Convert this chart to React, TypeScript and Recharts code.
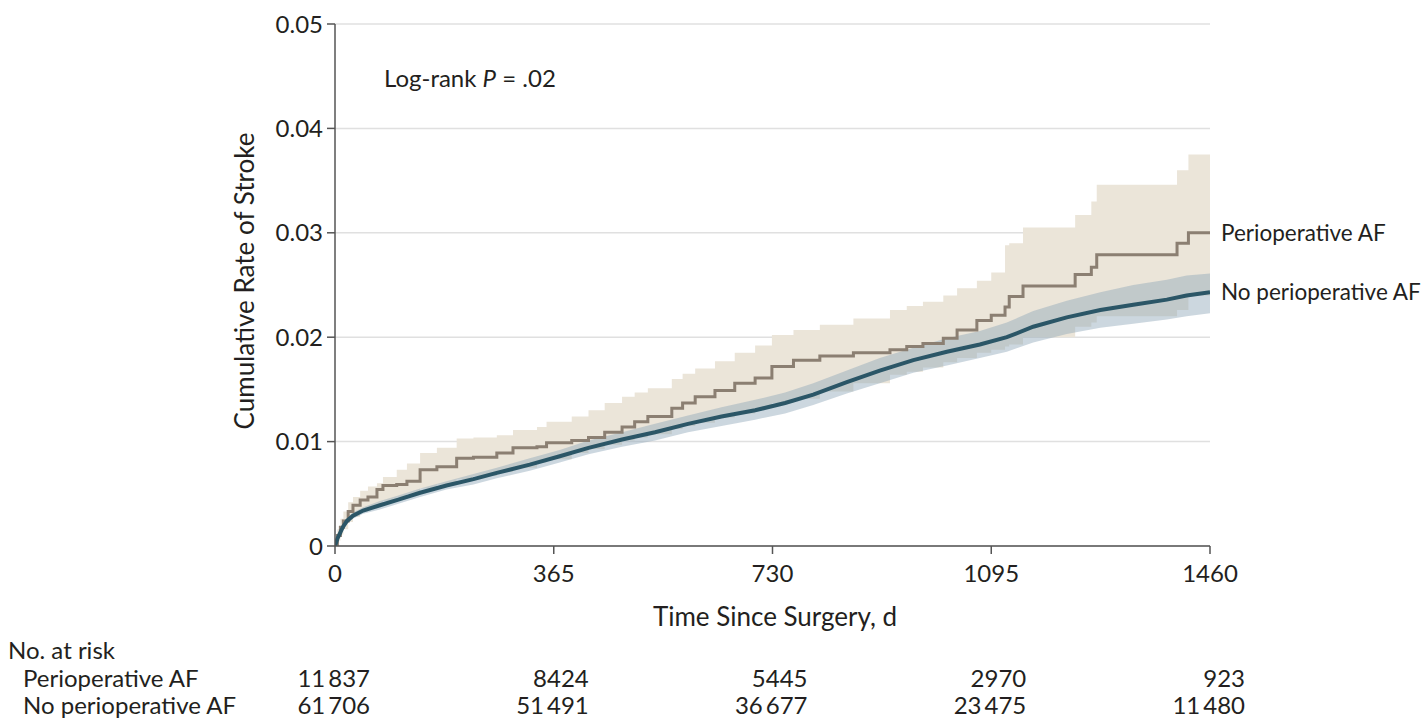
import React from 'react';
import { ComposedChart, Area, Line, XAxis, YAxis, CartesianGrid, ReferenceDot } from 'recharts';

// ---- Data ----
const periDays = [0, 4, 9, 14, 22, 30, 42, 55, 70, 80, 103, 120, 142, 170, 203, 231, 270, 297, 337, 353, 395, 423, 450, 479, 500, 522, 562, 580, 601, 634, 667, 701, 729, 765, 809, 865, 926, 954, 981, 1015, 1038, 1071, 1095, 1118, 1125, 1148, 1235, 1262, 1271, 1405, 1424, 1460];
const periEst = [0, 0.0010, 0.0018, 0.0024, 0.0033, 0.0039, 0.0044, 0.0047, 0.0054, 0.0058, 0.0059, 0.0062, 0.0073, 0.0076, 0.0084, 0.0085, 0.0089, 0.0094, 0.0095, 0.0099, 0.0101, 0.0104, 0.0109, 0.0114, 0.0119, 0.0124, 0.0132, 0.0137, 0.0143, 0.0149, 0.0156, 0.0161, 0.0172, 0.0178, 0.0182, 0.0185, 0.0188, 0.0191, 0.0194, 0.0199, 0.0207, 0.0216, 0.0221, 0.0229, 0.0239, 0.0249, 0.0260, 0.0267, 0.0279, 0.0290, 0.0300, 0.0300];
const periLow = [0, 0.0005, 0.0011, 0.0016, 0.0023, 0.0028, 0.0033, 0.0036, 0.0040, 0.0043, 0.0047, 0.0050, 0.0055, 0.0059, 0.0064, 0.0067, 0.0071, 0.0075, 0.0080, 0.0083, 0.0089, 0.0093, 0.0097, 0.0101, 0.0104, 0.0107, 0.0112, 0.0115, 0.0118, 0.0123, 0.0127, 0.0132, 0.0137, 0.0141, 0.0148, 0.0156, 0.0164, 0.0167, 0.0171, 0.0176, 0.0180, 0.0185, 0.0188, 0.0191, 0.0193, 0.0200, 0.0210, 0.0214, 0.0220, 0.0226, 0.0240, 0.0240];
const periHigh = [0, 0.0016, 0.0026, 0.0033, 0.0042, 0.0047, 0.0053, 0.0057, 0.0060, 0.0066, 0.0073, 0.0079, 0.0089, 0.0094, 0.0103, 0.0104, 0.0106, 0.0111, 0.0114, 0.0119, 0.0124, 0.0130, 0.0137, 0.0143, 0.0147, 0.0151, 0.0160, 0.0165, 0.0170, 0.0177, 0.0185, 0.0192, 0.0202, 0.0207, 0.0212, 0.0218, 0.0226, 0.0230, 0.0234, 0.0240, 0.0247, 0.0254, 0.0262, 0.0288, 0.0290, 0.0305, 0.0317, 0.0330, 0.0346, 0.0360, 0.0375, 0.0375];

const noDays = [0, 4, 9, 13, 20, 30, 47, 75, 103, 142, 186, 231, 270, 325, 375, 423, 479, 534, 589, 645, 701, 751, 798, 854, 909, 965, 1021, 1076, 1121, 1165, 1221, 1277, 1332, 1388, 1421, 1460];
const noEst = [0, 0.0007, 0.0013, 0.0018, 0.0024, 0.0029, 0.0034, 0.0039, 0.0044, 0.0051, 0.0058, 0.0064, 0.0070, 0.0078, 0.0086, 0.0094, 0.0102, 0.0109, 0.0117, 0.0124, 0.0130, 0.0137, 0.0145, 0.0157, 0.0168, 0.0178, 0.0186, 0.0193, 0.0200, 0.0210, 0.0219, 0.0226, 0.0231, 0.0236, 0.0240, 0.0243];
const noLow = [0, 0.0005, 0.0010, 0.0015, 0.0021, 0.0026, 0.0031, 0.0035, 0.0040, 0.0047, 0.0054, 0.0059, 0.0065, 0.0072, 0.0080, 0.0088, 0.0095, 0.0101, 0.0109, 0.0115, 0.0121, 0.0127, 0.0135, 0.0146, 0.0156, 0.0166, 0.0173, 0.0180, 0.0186, 0.0195, 0.0203, 0.0209, 0.0213, 0.0217, 0.0220, 0.0223];
const noHigh = [0, 0.0009, 0.0016, 0.0021, 0.0027, 0.0032, 0.0037, 0.0043, 0.0048, 0.0055, 0.0062, 0.0069, 0.0075, 0.0084, 0.0092, 0.0101, 0.0109, 0.0117, 0.0125, 0.0133, 0.0140, 0.0147, 0.0156, 0.0168, 0.0180, 0.0190, 0.0199, 0.0206, 0.0214, 0.0225, 0.0235, 0.0243, 0.0250, 0.0255, 0.0259, 0.0261];

const xTicks = [0, 365, 730, 1095, 1460];
const yTicks = [0, 0.01, 0.02, 0.03, 0.04, 0.05];

const groupPeri = 'Perioperative AF';
const groupNo = 'No perioperative AF';
const riskPeri = ['11\u2009837', '8424', '5445', '2970', '923'];
const riskNo = ['61\u2009706', '51\u2009491', '36\u2009677', '23\u2009475', '11\u2009480'];

// ---- Built tables ----
const periData = periDays.map((d, i) => ({ day: d, est: periEst[i], band: [periLow[i], periHigh[i]] }));
const noData = noDays.map((d, i) => ({ day: d, est: noEst[i], band: [noLow[i], noHigh[i]] }));

// ---- Layout ----
const W = 1428;
const H = 719;
const PLOT_LEFT = 335;
const PLOT_RIGHT = 1210;
const PLOT_TOP = 24;
const PLOT_BOTTOM = 546;
const X_AXIS_H = 44;
const FONT = 'Lato, "Open Sans", sans-serif';
const FS = 24;
const FS_TITLE = 26;
const FS_END = 22.5;
const TEXT = '#231f20';

const xPx = (d: number) => PLOT_LEFT + ((PLOT_RIGHT - PLOT_LEFT) * d) / 1460;

export default function App() {
  return (
    <div style={{ position: 'absolute', left: 0, top: 0, width: W, height: H, background: '#fff', fontFamily: FONT, color: TEXT, overflow: 'hidden' }}>
      <ComposedChart
        width={W}
        height={H}
        margin={{ top: PLOT_TOP, right: W - PLOT_RIGHT, bottom: H - PLOT_BOTTOM - X_AXIS_H, left: 0 }}
      >
        <CartesianGrid horizontal vertical={false} stroke="#e0e0e0" strokeWidth={1.5} />
        <XAxis
          type="number"
          dataKey="day"
          domain={[0, 1460]}
          ticks={xTicks}
          height={X_AXIS_H}
          tickSize={8}
          tickMargin={11}
          stroke="#555"
          strokeWidth={1.5}
          tick={{ fill: TEXT, fontSize: FS, fontFamily: FONT }}
          allowDataOverflow
        />
        <YAxis
          type="number"
          domain={[0, 0.05]}
          ticks={yTicks}
          width={PLOT_LEFT}
          tickSize={8}
          tickMargin={4}
          stroke="#555"
          strokeWidth={1.5}
          tick={{ fill: TEXT, fontSize: FS, fontFamily: FONT }}
          tickFormatter={(v: number) => (v === 0 ? '0' : v.toFixed(2))}
          allowDataOverflow
        />
        <Area
          data={periData}
          dataKey="band"
          type="stepAfter"
          stroke="none"
          fill="#ebe5d9"
          fillOpacity={1}
          isAnimationActive={false}
          activeDot={false}
        />
        <Area
          data={noData}
          dataKey="band"
          type="linear"
          stroke="none"
          fill="#8ea6b8"
          fillOpacity={0.45}
          isAnimationActive={false}
          activeDot={false}
        />
        <Line
          data={periData}
          dataKey="est"
          type="stepAfter"
          stroke="#8b7f72"
          strokeWidth={3}
          dot={false}
          activeDot={false}
          isAnimationActive={false}
        />
        <Line
          data={noData}
          dataKey="est"
          type="linear"
          stroke="#2b5667"
          strokeWidth={4}
          dot={false}
          activeDot={false}
          isAnimationActive={false}
        />
        <ReferenceDot
          x={periDays[periDays.length - 1]}
          y={periEst[periEst.length - 1]}
          r={0}
          stroke="none"
          label={{ value: groupPeri, position: 'right', offset: 11, fill: TEXT, fontSize: FS_END, fontFamily: FONT }}
        />
        <ReferenceDot
          x={noDays[noDays.length - 1]}
          y={noEst[noEst.length - 1]}
          r={0}
          stroke="none"
          label={{ value: groupNo, position: 'right', offset: 11, fill: TEXT, fontSize: FS_END, fontFamily: FONT }}
        />
      </ComposedChart>

      {/* Log-rank annotation */}
      <div style={{ position: 'absolute', left: 384, top: 78, transform: 'translateY(-50%)', fontSize: FS, whiteSpace: 'nowrap', lineHeight: 1 }}>
        Log-rank <i>P</i> = .02
      </div>

      {/* Y axis title */}
      <div
        style={{
          position: 'absolute',
          left: 244,
          top: 281,
          transform: 'translate(-50%, -50%) rotate(-90deg)',
          fontSize: FS_TITLE,
          whiteSpace: 'nowrap',
          lineHeight: 1,
        }}
      >
        Cumulative Rate of Stroke
      </div>

      {/* X axis title */}
      <div
        style={{
          position: 'absolute',
          left: 775,
          top: 616,
          transform: 'translate(-50%, -50%)',
          fontSize: FS_TITLE,
          whiteSpace: 'nowrap',
          lineHeight: 1,
        }}
      >
        Time Since Surgery, d
      </div>

      {/* Number at risk table */}
      <div style={{ position: 'absolute', left: 8, top: 650, transform: 'translateY(-50%)', fontSize: FS, whiteSpace: 'nowrap', lineHeight: 1 }}>
        No. at risk
      </div>
      <div style={{ position: 'absolute', left: 23, top: 678, transform: 'translateY(-50%)', fontSize: FS, whiteSpace: 'nowrap', lineHeight: 1 }}>
        {groupPeri}
      </div>
      <div style={{ position: 'absolute', left: 23, top: 705, transform: 'translateY(-50%)', fontSize: FS, whiteSpace: 'nowrap', lineHeight: 1 }}>
        {groupNo}
      </div>
      {xTicks.map((t, i) => (
        <React.Fragment key={t}>
          <div style={{ position: 'absolute', right: W - (xPx(t) + 35), top: 678, transform: 'translateY(-50%)', fontSize: FS, whiteSpace: 'nowrap', lineHeight: 1, textAlign: 'right' }}>
            {riskPeri[i]}
          </div>
          <div style={{ position: 'absolute', right: W - (xPx(t) + 35), top: 705, transform: 'translateY(-50%)', fontSize: FS, whiteSpace: 'nowrap', lineHeight: 1, textAlign: 'right' }}>
            {riskNo[i]}
          </div>
        </React.Fragment>
      ))}
    </div>
  );
}
